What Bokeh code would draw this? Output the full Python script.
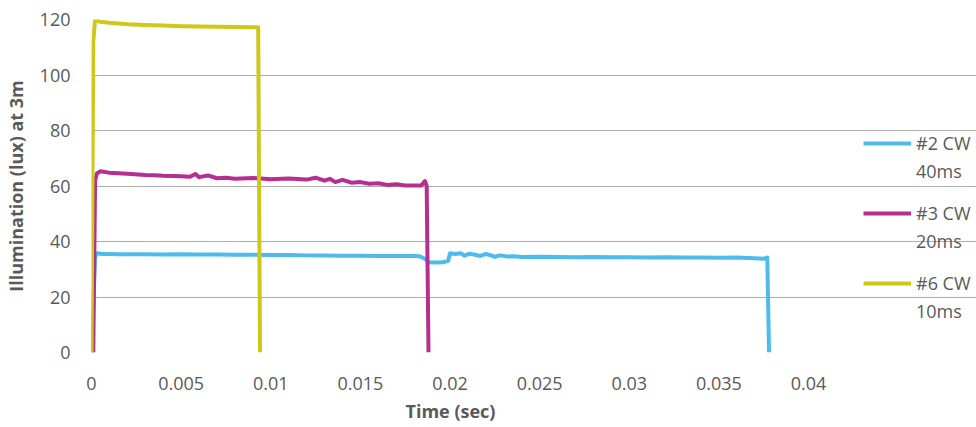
from bokeh.plotting import figure
from bokeh.models import Legend, LegendItem, FixedTicker, NumeralTickFormatter, Range1d, Title
from bokeh.embed import file_html
from bokeh.resources import INLINE

# ---- data ----
series_names = ["#2 CW", "#3 CW", "#6 CW"]
series_durations = ["40ms", "20ms", "10ms"]
series_colors = ["#4BBCEC", "#B52E90", "#CEC81A"]

t2 = [0.0, 0.0002, 0.0003, 0.0006, 0.001, 0.0015, 0.002, 0.003, 0.004, 0.005,
      0.006, 0.007, 0.008, 0.009, 0.010, 0.011, 0.012, 0.013, 0.014, 0.015,
      0.016, 0.017, 0.018, 0.0183, 0.0186, 0.0188, 0.0192, 0.0196, 0.0199, 0.0200,
      0.0203, 0.0206, 0.0208, 0.0211, 0.0214, 0.0217, 0.0220, 0.0223, 0.0225, 0.0228,
      0.0232, 0.0236, 0.024, 0.025, 0.026, 0.027, 0.028, 0.029, 0.030, 0.031,
      0.032, 0.033, 0.034, 0.035, 0.036, 0.037, 0.0375, 0.0377, 0.0378]
v2 = [0.0, 34.0, 35.8, 35.5, 35.5, 35.4, 35.4, 35.4, 35.3, 35.4,
      35.3, 35.3, 35.2, 35.2, 35.1, 35.1, 35.0, 35.0, 34.9, 34.9,
      34.8, 34.8, 34.8, 34.7, 33.8, 32.5, 32.4, 32.5, 33.0, 35.8,
      35.5, 35.8, 34.9, 35.6, 35.2, 34.8, 35.5, 35.0, 34.5, 35.0,
      34.6, 34.7, 34.4, 34.5, 34.4, 34.3, 34.4, 34.3, 34.3, 34.2,
      34.3, 34.2, 34.2, 34.1, 34.2, 34.0, 33.8, 34.2, 0.0]

t3 = [0.0001, 0.0002, 0.0003, 0.0005, 0.0008, 0.001, 0.0015, 0.002, 0.003, 0.0035,
      0.004, 0.005, 0.0055, 0.0058, 0.006, 0.0065, 0.007, 0.0075, 0.008, 0.009,
      0.010, 0.011, 0.012, 0.0125, 0.013, 0.0133, 0.0136, 0.014, 0.0145, 0.015,
      0.0155, 0.016, 0.0165, 0.017, 0.0175, 0.018, 0.0184, 0.0186, 0.0187, 0.0188]
v3 = [0.0, 62.0, 64.5, 65.3, 65.0, 64.8, 64.6, 64.4, 64.0, 63.9,
      63.7, 63.5, 63.3, 64.3, 63.2, 63.8, 62.8, 63.0, 62.6, 62.9,
      62.4, 62.7, 62.3, 63.0, 61.9, 62.6, 61.4, 62.2, 61.2, 61.4,
      60.8, 61.0, 60.4, 60.6, 60.2, 60.2, 60.2, 61.8, 60.0, 0.0]

t6 = [0.0, 0.0001, 0.0002, 0.0003, 0.0005, 0.001, 0.002, 0.003, 0.004, 0.005,
      0.006, 0.007, 0.008, 0.009, 0.0093, 0.0094]
v6 = [0.0, 112.0, 120.0, 119.6, 119.2, 118.8, 118.3, 118.0, 117.8, 117.6,
      117.5, 117.4, 117.3, 117.2, 117.2, 0.0]

x_ticks = [0, 0.005, 0.01, 0.015, 0.02, 0.025, 0.03, 0.035, 0.04]
y_ticks = [0, 20, 40, 60, 80, 100, 120]
x_title = "Time (sec)"
y_title = "Illumination (lux) at 3m"

FONT = "Open Sans"
GREY = "#595959"
FS = "18px"

PLOT_W = 717          # pixel width of the 0..0.04 data area
FRAME_W = 885         # frame extends to the right to host the legend
x_end = x_ticks[-1] * FRAME_W / PLOT_W

p = figure(width=976, height=427, output_backend="svg", toolbar_location=None,
           x_range=Range1d(0, x_end), y_range=Range1d(0, y_ticks[-1]),
           frame_width=FRAME_W, frame_height=333,
           min_border_left=91, min_border_right=0, min_border_top=19, min_border_bottom=0)
p.outline_line_color = None

rs = []
for t, v, c in zip([t2, t3, t6], [v2, v3, v6], series_colors):
    rs.append(p.line(t, v, line_color=c, line_width=4, line_join="round"))

# invisible renderers used only to place the second legend line
ghosts = [p.line([0, 0], [0, 0], line_alpha=0) for _ in series_durations]

p.xgrid.visible = False
p.ygrid.grid_line_color = "#ADADAD"
p.ygrid.grid_line_width = 1
p.ygrid.bounds = (x_ticks[0], x_ticks[-1])

for ax in (p.xaxis[0], p.yaxis[0]):
    ax.axis_line_color = None
    ax.major_tick_line_color = None
    ax.minor_tick_line_color = None
    ax.major_label_text_font = FONT
    ax.major_label_text_font_size = FS
    ax.major_label_text_color = GREY
    ax.axis_label_text_font = FONT
    ax.axis_label_text_font_size = FS
    ax.axis_label_text_font_style = "bold"
    ax.axis_label_text_color = GREY

p.xaxis[0].ticker = FixedTicker(ticks=x_ticks)
p.xaxis[0].formatter = NumeralTickFormatter(format="0.[000]")
p.xaxis[0].major_label_standoff = 18
p.yaxis[0].ticker = FixedTicker(ticks=y_ticks)
p.yaxis[0].axis_label = y_title
p.yaxis[0].major_label_standoff = 15
p.yaxis[0].axis_label_standoff = 9

# x-axis title, centred under the 0..0.04 part of the frame
p.add_layout(Title(text=x_title, align="left", offset=314, standoff=9,
                   text_font=FONT, text_font_size=FS, text_font_style="bold",
                   text_color=GREY), "below")

common = dict(border_line_color=None, background_fill_alpha=0,
              label_text_font=FONT, label_text_font_size=FS, label_text_color=GREY,
              glyph_width=48, glyph_height=20, label_height=20, label_standoff=5,
              spacing=46, margin=0, padding=0)
legend_a = Legend(items=[LegendItem(label=n, renderers=[r]) for n, r in zip(series_names, rs)],
                  location=(772, 57), **common)
legend_b = Legend(items=[LegendItem(label=d, renderers=[g]) for d, g in zip(series_durations, ghosts)],
                  location=(772, 29), **common)
p.add_layout(legend_a, "center")
p.add_layout(legend_b, "center")

open("out.html", "w").write(file_html(p, INLINE))
